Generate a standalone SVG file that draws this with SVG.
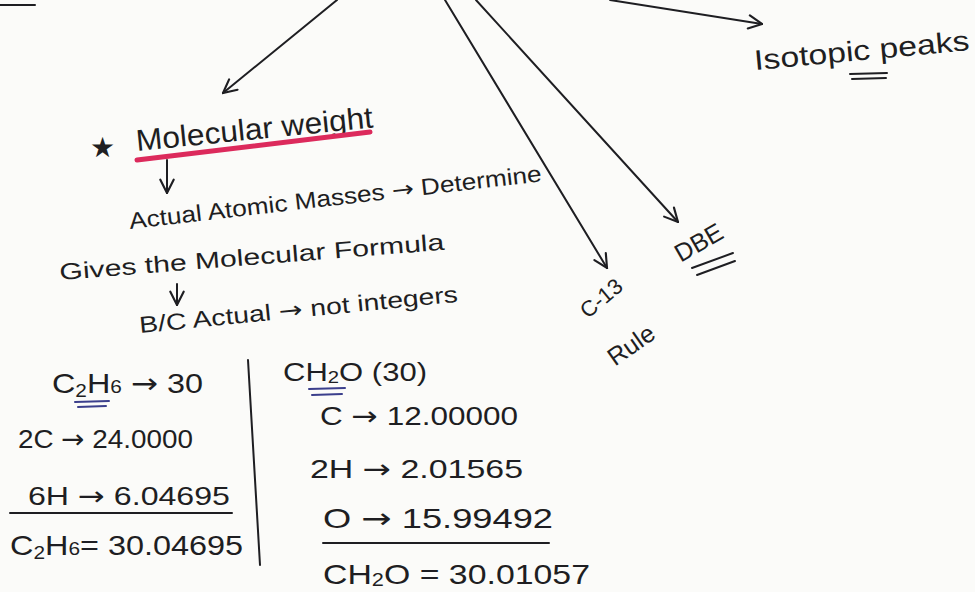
<svg xmlns="http://www.w3.org/2000/svg" width="975" height="592" viewBox="0 0 975 592">
  <style>
    .t { font-family: "Liberation Sans", "DejaVu Sans", sans-serif; fill: #1e1e22; }
    .ar { font-family: "DejaVu Sans", sans-serif; }
    .ln { stroke: #1e1e22; stroke-width: 2; fill: none; stroke-linecap: round; }
    .blue { stroke: #3b3f8c; stroke-width: 2; fill: none; stroke-linecap: round; }
    .red { stroke: #dc2a5c; stroke-width: 5; fill: none; stroke-linecap: round; }
  </style>
  <defs>
    <marker id="ah" viewBox="0 0 12 12" refX="11" refY="6" markerWidth="16" markerHeight="16" markerUnits="userSpaceOnUse" orient="auto">
      <path d="M1,1 L11,6 L1,11" fill="none" stroke="#1e1e22" stroke-width="1.6" stroke-linecap="round"/>
    </marker>
  </defs>
  <rect width="975" height="592" fill="#fbfbf9"/>

  <g id="connectors">
    <line class="ln" x1="0" y1="5" x2="35" y2="5"/>
    <line class="ln" x1="337" y1="0" x2="223" y2="93" marker-end="url(#ah)"/>
    <line class="ln" x1="445" y1="0" x2="607" y2="268" marker-end="url(#ah)"/>
    <line class="ln" x1="476" y1="0" x2="678" y2="222" marker-end="url(#ah)"/>
    <line class="ln" x1="610" y1="0" x2="762" y2="24" marker-end="url(#ah)"/>
    <line class="ln" x1="167" y1="160" x2="167" y2="193" marker-end="url(#ah)"/>
    <line class="ln" x1="177" y1="284" x2="177" y2="305" marker-end="url(#ah)"/>
  </g>

  <g id="molecular-weight">
    <text class="t" x="90" y="157" font-size="28" font-family="DejaVu Sans, sans-serif">★</text>
    <text class="t" x="137" y="151" font-size="30" textLength="238" lengthAdjust="spacingAndGlyphs" transform="rotate(-5.7 137 151)">Molecular weight</text>
    <line class="red" x1="137" y1="160" x2="370" y2="132"/>
  </g>

  <g id="notes">
    <text class="t" x="130" y="229" font-size="23" textLength="415" lengthAdjust="spacingAndGlyphs" transform="rotate(-6.6 130 229)">Actual Atomic Masses <tspan class="ar">→</tspan> Determine</text>
    <text class="t" x="60" y="280" font-size="23" textLength="386" lengthAdjust="spacingAndGlyphs" transform="rotate(-4.5 60 280)">Gives the Molecular Formula</text>
    <text class="t" x="140" y="333" font-size="23" textLength="320" lengthAdjust="spacingAndGlyphs" transform="rotate(-5.6 140 333)">B/C Actual <tspan class="ar">→</tspan> not integers</text>
  </g>

  <g id="c2h6">
    <text class="t" x="52" y="393" font-size="28" textLength="151" lengthAdjust="spacingAndGlyphs">C<tspan font-size="18" dy="4">2</tspan><tspan dy="-4">H</tspan><tspan font-size="18">6</tspan> <tspan class="ar">→</tspan> 30</text>
    <line class="blue" x1="75" y1="402" x2="109" y2="401"/>
    <line class="blue" x1="78" y1="407" x2="106" y2="406"/>
    <text class="t" x="18" y="448" font-size="26" textLength="175" lengthAdjust="spacingAndGlyphs">2C <tspan class="ar">→</tspan> 24.0000</text>
    <text class="t" x="28" y="505" font-size="26" textLength="202" lengthAdjust="spacingAndGlyphs">6H <tspan class="ar">→</tspan> 6.04695</text>
    <line class="ln" x1="10" y1="513" x2="232" y2="513"/>
    <text class="t" x="10" y="555" font-size="28" textLength="233" lengthAdjust="spacingAndGlyphs">C<tspan font-size="18" dy="4">2</tspan><tspan dy="-4">H</tspan><tspan font-size="18">6</tspan>= 30.04695</text>
    <line class="ln" x1="248" y1="360" x2="260" y2="565"/>
  </g>

  <g id="ch2o">
    <text class="t" x="283" y="381" font-size="26" textLength="144" lengthAdjust="spacingAndGlyphs">CH<tspan font-size="17" dy="2">2</tspan><tspan dy="-2">O (30)</tspan></text>
    <line class="blue" x1="309" y1="389" x2="345" y2="388"/>
    <line class="blue" x1="312" y1="395" x2="342" y2="394"/>
    <text class="t" x="320" y="425" font-size="26" textLength="198" lengthAdjust="spacingAndGlyphs">C <tspan class="ar">→</tspan> 12.00000</text>
    <text class="t" x="310" y="478" font-size="26" textLength="213" lengthAdjust="spacingAndGlyphs">2H <tspan class="ar">→</tspan> 2.01565</text>
    <text class="t" x="323" y="528" font-size="28" textLength="230" lengthAdjust="spacingAndGlyphs">O <tspan class="ar">→</tspan> 15.99492</text>
    <line class="ln" x1="323" y1="543" x2="549" y2="543"/>
    <text class="t" x="323" y="584" font-size="28" textLength="267" lengthAdjust="spacingAndGlyphs">CH<tspan font-size="18" dy="2">2</tspan><tspan dy="-2">O = 30.01057</tspan></text>
  </g>

  <g id="c13-rule">
    <text class="t" x="606" y="304" font-size="22" text-anchor="middle" transform="rotate(-40 606 304)">C-13</text>
    <text class="t" x="636" y="352" font-size="25" text-anchor="middle" transform="rotate(-35 636 352)">Rule</text>
  </g>

  <g id="dbe">
    <text class="t" x="703" y="250" font-size="25" text-anchor="middle" transform="rotate(-30 703 250)">DBE</text>
    <line class="ln" x1="692" y1="268" x2="733" y2="253"/>
    <line class="ln" x1="697" y1="275" x2="735" y2="261"/>
  </g>

  <g id="isotopic-peaks">
    <text class="t" x="755" y="70" font-size="28" textLength="216" lengthAdjust="spacingAndGlyphs" transform="rotate(-5.3 755 70)">Isotopic peaks</text>
    <line class="ln" x1="850" y1="74" x2="887" y2="73"/>
    <line class="ln" x1="852" y1="79" x2="886" y2="78"/>
  </g>
</svg>
